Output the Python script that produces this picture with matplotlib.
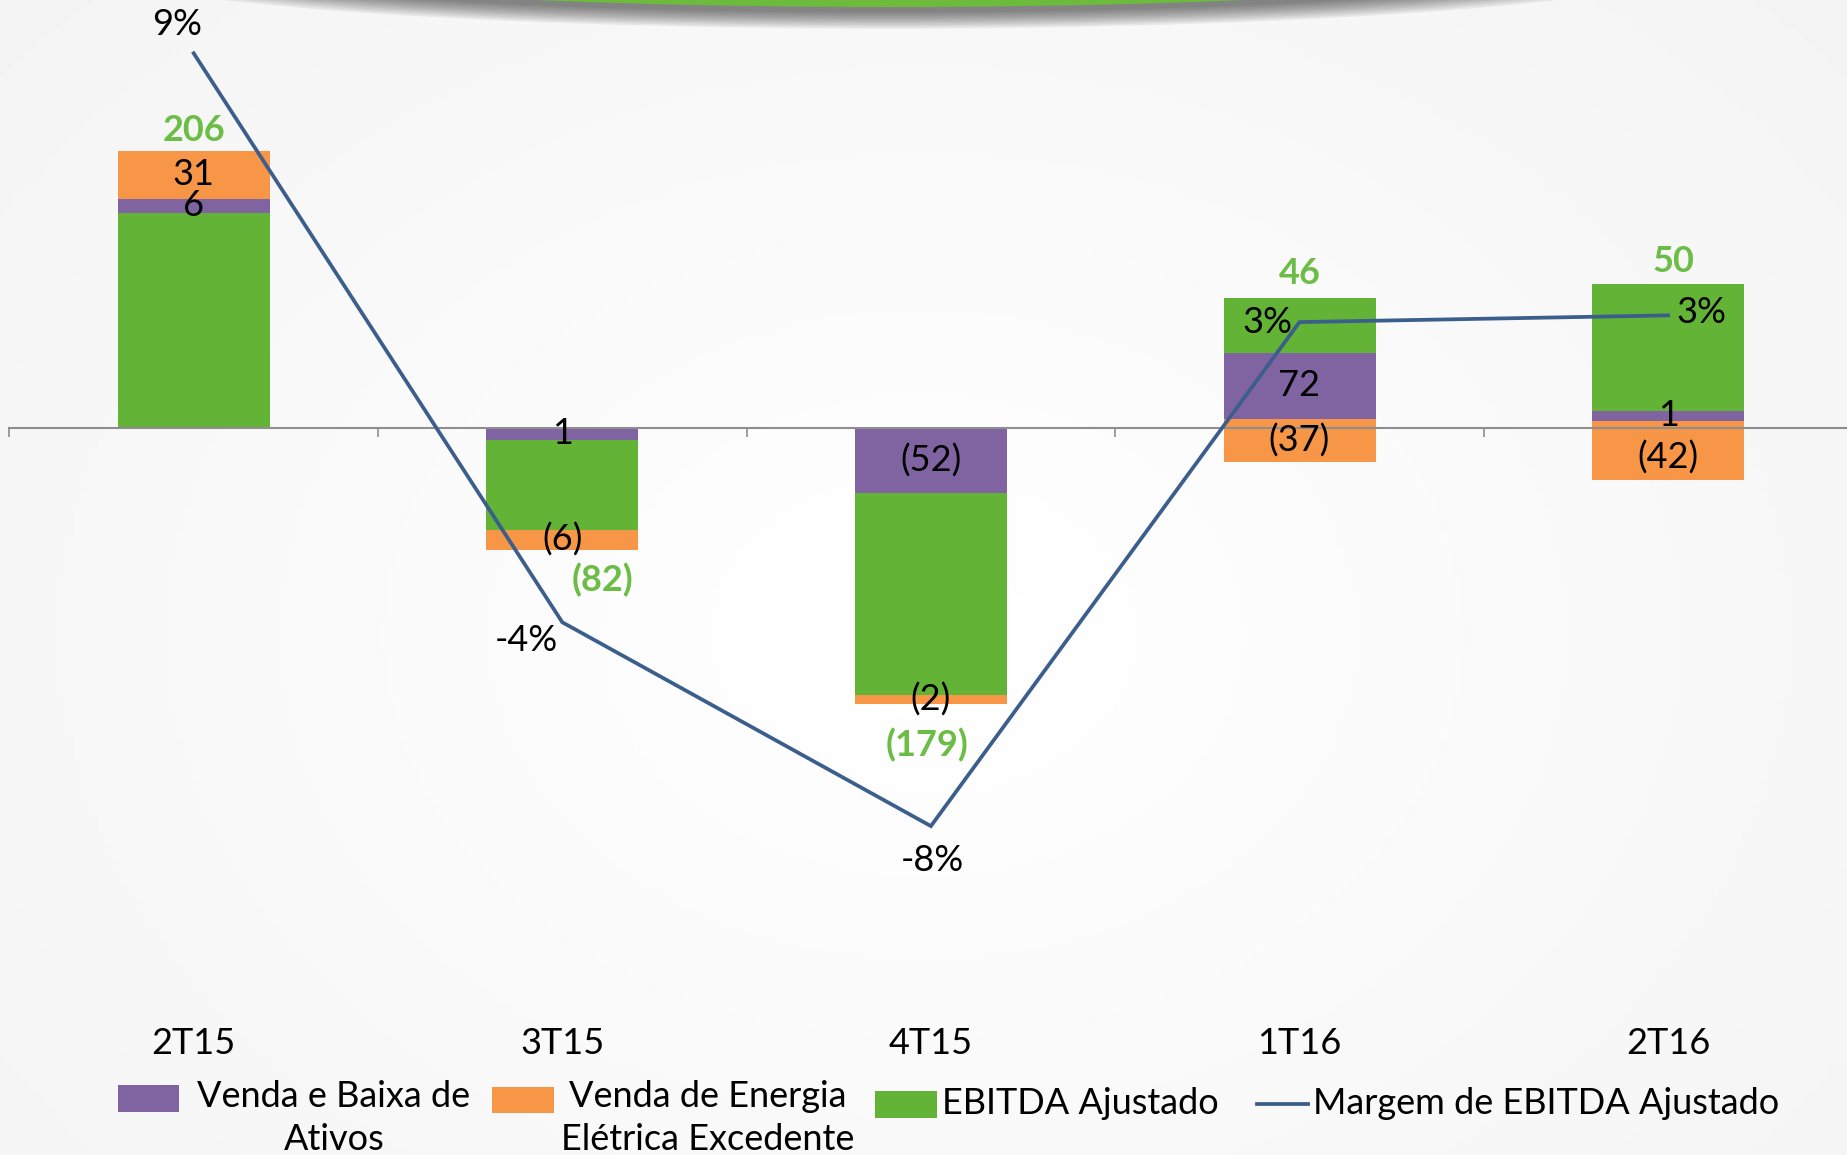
import numpy as np
import matplotlib
matplotlib.use("Agg")
import matplotlib.pyplot as plt
from matplotlib.patches import Rectangle, Ellipse
import matplotlib.transforms as mtrans

# dados
trimestres = ["2T15", "3T15", "4T15", "1T16", "2T16"]

# segmentos das barras: base e topo (unidades do gráfico)
ebitda_lo = [0, -75.8, -198.5, 55.8, 12.6]
ebitda_hi = [160.1, -8.7, -48.3, 96.7, 107.1]
ativos_lo = [160.1, -8.7, -48.3, 6.7, 5.4]
ativos_hi = [170.3, 0, 0, 55.8, 12.6]
energia_lo = [170.3, -90.5, -205.4, -25.3, -38.7]
energia_hi = [206, -75.8, -198.5, 6.7, 5.4]

ebitda_lbl = ["206", "(82)", "(179)", "46", "50"]
ativos_lbl = ["6", "1", "(52)", "72", "1"]
energia_lbl = ["31", "(6)", "(2)", "(37)", "(42)"]

margem = [9.0, -3.7, -8.25, 3.0, 3.15]
margem_lbl = ["9%", "-4%", "-8%", "3%", "3%"]

# cores
c_roxo = "#8064A2"
c_laranja = "#F79646"
c_verde = "#62B336"
c_verde_txt = "#6CBD45"
c_linha = "#3B5E8C"

# fonte
plt.rcParams["font.family"] = ["Lato", "DejaVu Sans"]
fs = 26

W, H = 1847, 1155
fig = plt.figure(figsize=(W / 100, H / 100), dpi=100)

# fundo com gradiente suave
bg = fig.add_axes([0, 0, 1, 1], zorder=-2)
yy, xx = np.mgrid[0:1:200j, 0:1:300j]
r = np.sqrt(((xx - 0.5) / 0.75) ** 2 + ((yy - 0.55) / 0.9) ** 2)
bg.imshow(1 - 0.05 * np.clip(r, 0, 1), cmap="gray", vmin=0, vmax=1,
          extent=[0, 1, 0, 1], aspect="auto")
bg.axis("off")

# eixo principal
px_u = 1.345          # pixels por unidade
zero_px = 428
left = 9.4 / W
cat_w = 368.6
ax = fig.add_axes([left, 0, 5 * cat_w / W, 1])
ax.set_facecolor("none")
x = np.arange(len(trimestres))
ax.set_xlim(-0.5, 4.5)
ax.set_ylim(-(H - zero_px) / px_u, zero_px / px_u)

bw = 152 / cat_w
for lo, hi, cor in [(ebitda_lo, ebitda_hi, c_verde),
                    (ativos_lo, ativos_hi, c_roxo),
                    (energia_lo, energia_hi, c_laranja)]:
    lo = np.array(lo)
    hi = np.array(hi)
    ax.bar(x, hi - lo, bottom=lo, width=bw, color=cor, zorder=2)

for s in ["top", "right", "left"]:
    ax.spines[s].set_visible(False)
ax.spines["bottom"].set_position(("data", 0))
ax.spines["bottom"].set_color("#8E8E8E")
ax.spines["bottom"].set_linewidth(1.5)
ax.set_xticks(np.arange(-0.5, 5, 1))
ax.set_xticklabels([])
ax.tick_params(axis="x", direction="out", length=6.5, width=1.2, color="#8E8E8E")
ax.set_yticks([])

# eixo secundário: margem
ax2 = ax.twinx()
ax2.set_facecolor("none")
m_px = 44.8
m_zero = 456.5
ax2.set_ylim(-(H - m_zero) / m_px, m_zero / m_px)
ax2.plot(x, margem, color=c_linha, lw=2.7, zorder=5, solid_joinstyle="miter")
ax2.axis("off")

# rótulos dos segmentos
for i in range(len(x)):
    yc = (ativos_lo[i] + ativos_hi[i]) / 2
    ax2.text(x[i], yc, ativos_lbl[i], transform=ax.transData, ha="center",
             va="center", fontsize=fs, color="black", zorder=6)
    yc = (energia_lo[i] + energia_hi[i]) / 2
    if i == 4:
        yc -= 5
    ax2.text(x[i], yc, energia_lbl[i], transform=ax.transData, ha="center",
             va="center", fontsize=fs, color="black", zorder=6)

tot_off = [(0, 20), (40, -30), (-4, -41), (0, 24), (5, 22)]
for i in range(len(x)):
    topo = max(ebitda_hi[i], ativos_hi[i], energia_hi[i])
    base = min(ebitda_lo[i], ativos_lo[i], energia_lo[i])
    yref = topo if tot_off[i][1] > 0 else base
    ax2.annotate(ebitda_lbl[i], (x[i], yref), xycoords=ax.transData,
                 xytext=tot_off[i], textcoords="offset pixels",
                 ha="center", va="center", fontsize=fs, fontweight="bold",
                 color=c_verde_txt, zorder=6)

m_off = [(-17, 29), (-36, -18), (1, -34), (-32, 0), (33, 3)]
for i in range(len(x)):
    ax2.annotate(margem_lbl[i], (x[i], margem[i]), xytext=m_off[i],
                 textcoords="offset pixels", ha="center", va="center",
                 fontsize=fs, color="black", zorder=6)

# camada em pixels: categorias, legenda, detalhe do topo
ov = fig.add_axes([0, 0, 1, 1], zorder=5)
ov.set_xlim(0, W)
ov.set_ylim(H, 0)
ov.axis("off")
ov.set_facecolor("none")

tr = mtrans.blended_transform_factory(ax.transData, ov.transData)
for i, t in enumerate(trimestres):
    ov.text(x[i], 1044, t, transform=tr, ha="center", va="center",
            fontsize=fs, color="black")

# forma verde do título, com sombra
for k in range(1, 11):
    ov.add_patch(Ellipse((890, -40), 2 * (700 + k * 12), 2 * (50.7 + k * 1.8),
                         color="#202020", alpha=0.07, lw=0))
ov.add_patch(Ellipse((890, -43.7), 1400, 101.4, color="#6CBB3C", lw=0))

# legenda
ov.add_patch(Rectangle((118, 1085), 61, 27, color=c_roxo, lw=0))
ov.text(334, 1118, "Venda e Baixa de\nAtivos", ha="center", va="center",
        fontsize=fs, multialignment="center", linespacing=1.37)
ov.add_patch(Rectangle((492, 1087), 62, 26, color=c_laranja, lw=0))
ov.text(708, 1118, "Venda de Energia\nElétrica Excedente", ha="center",
        va="center", fontsize=fs, multialignment="center", linespacing=1.37)
ov.add_patch(Rectangle((875, 1091), 62, 27, color=c_verde, lw=0))
ov.text(942, 1103, "EBITDA Ajustado", ha="left", va="center", fontsize=fs)
ov.plot([1257, 1308], [1104, 1104], color=c_linha, lw=2.7)
ov.text(1313, 1103, "Margem de EBITDA Ajustado", ha="left", va="center",
        fontsize=fs)

fig.savefig("out.png", dpi=100)
